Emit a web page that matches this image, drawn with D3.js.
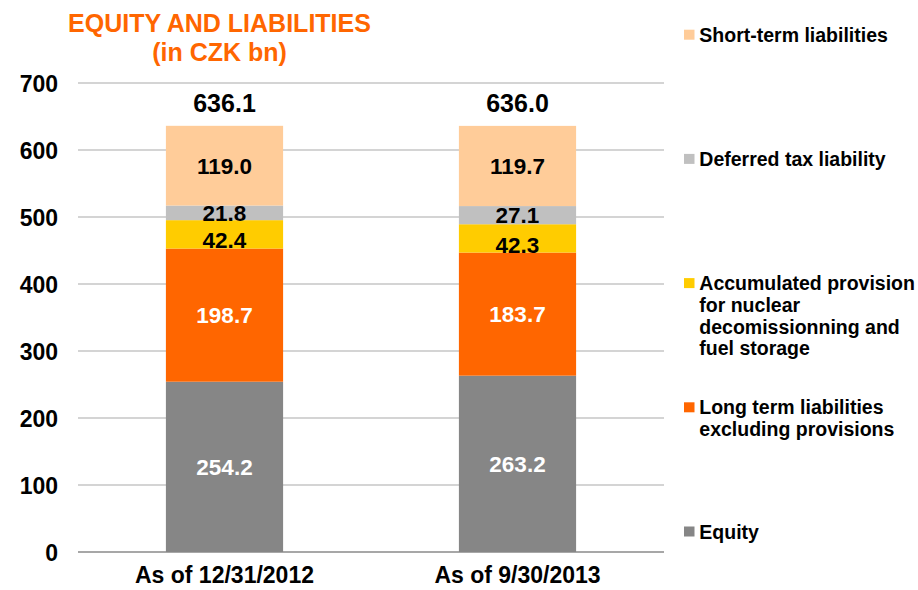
<!DOCTYPE html>
<html>
<head>
<meta charset="utf-8">
<script src="https://cdn.jsdelivr.net/npm/d3@7"></script>
<style>
  html, body { margin: 0; padding: 0; background: #fff; }
  svg { display: block; font-family: "Liberation Sans", Arial, Helvetica, sans-serif; font-weight: bold; }
</style>
</head>
<body>
<svg id="chart" width="918" height="590"></svg>
<script>
// Balance-sheet structure, CZK bn
const categories = ["As of 12/31/2012", "As of 9/30/2013"];
const equity = [254.2, 263.2];
const longTermLiabilities = [198.7, 183.7];
const nuclearProvision = [42.4, 42.3];
const deferredTax = [21.8, 27.1];
const shortTermLiabilities = [119.0, 119.7];
const totals = [636.1, 636.0];
const yTicks = [0, 100, 200, 300, 400, 500, 600, 700];

// Stack order, bottom to top
const series = [
  { name: "Equity", values: equity, color: "#868686", text: "#ffffff",
    legend: ["Equity"] },
  { name: "Long term liabilities excluding provisions", values: longTermLiabilities, color: "#FF6600", text: "#ffffff",
    legend: ["Long term liabilities", "excluding provisions"] },
  { name: "Accumulated provision", values: nuclearProvision, color: "#FFCC00", text: "#000000", nudge: 6,
    legend: ["Accumulated provision", "for nuclear", "decomissionning and", "fuel storage"] },
  { name: "Deferred tax liability", values: deferredTax, color: "#C0C0C0", text: "#000000",
    legend: ["Deferred tax liability"] },
  { name: "Short-term liabilities", values: shortTermLiabilities, color: "#FFCC99", text: "#000000",
    legend: ["Short-term liabilities"] }
];

const svg = d3.select("#chart");

const x = d3.scaleBand()
  .domain(categories)
  .range([78, 664])
  .paddingInner(0.6)
  .paddingOuter(0.3);

const y = d3.scaleLinear()
  .domain([0, 700])
  .range([552, 83]);

// Title
const title = svg.append("g").attr("fill", "#FF6600").attr("text-anchor", "middle");
title.append("text").attr("x", 219.5).attr("y", 32).attr("font-size", 25).text("EQUITY AND LIABILITIES");
title.append("text").attr("x", 219.5).attr("y", 61).attr("font-size", 25).text("(in CZK bn)");

// Gridlines
svg.append("g")
  .selectAll("line")
  .data(yTicks)
  .join("line")
  .attr("x1", 78).attr("x2", 664)
  .attr("y1", d => y(d)).attr("y2", d => y(d))
  .attr("stroke", d => d === 0 ? "#8a8a8a" : "#c6c6c6")
  .attr("stroke-width", 1.5);

// Y axis labels
const yAxis = svg.append("g")
  .attr("transform", "translate(58,0)")
  .call(d3.axisLeft(y).tickValues(yTicks).tickSize(0).tickPadding(0).tickFormat(d3.format("d")));
yAxis.select(".domain").remove();
yAxis.selectAll("text")
  .attr("font-size", 23)
  .attr("font-family", "'Liberation Sans', Arial, sans-serif")
  .attr("font-weight", "bold")
  .attr("fill", "#000")
  .attr("dy", "0.36em");

// Stacked bars
const stackData = categories.map((c, i) => {
  const row = { category: c };
  series.forEach(s => { row[s.name] = s.values[i]; });
  return row;
});
const stacked = d3.stack().keys(series.map(s => s.name))(stackData);

const layers = svg.append("g")
  .selectAll("g")
  .data(stacked)
  .join("g")
  .attr("fill", (d, i) => series[i].color);

layers.selectAll("rect")
  .data(d => d)
  .join("rect")
  .attr("x", d => x(d.data.category))
  .attr("width", x.bandwidth())
  .attr("y", d => y(d[1]))
  .attr("height", d => y(d[0]) - y(d[1]));

// Segment value labels
stacked.forEach((layer, li) => {
  const s = series[li];
  svg.append("g")
    .selectAll("text")
    .data(layer)
    .join("text")
    .attr("x", d => x(d.data.category) + x.bandwidth() / 2)
    .attr("y", d => (y(d[0]) + y(d[1])) / 2 + (s.nudge || 0))
    .attr("dy", "0.36em")
    .attr("text-anchor", "middle")
    .attr("font-size", 22.5)
    .attr("fill", s.text)
    .text(d => d3.format(".1f")(d[1] - d[0]));
});

// Totals above bars
svg.append("g")
  .selectAll("text")
  .data(categories)
  .join("text")
  .attr("x", d => x(d) + x.bandwidth() / 2)
  .attr("y", (d, i) => y(totals[i]) - 14)
  .attr("text-anchor", "middle")
  .attr("font-size", 25)
  .attr("fill", "#000")
  .text((d, i) => d3.format(".1f")(totals[i]));

// Category labels
svg.append("g")
  .selectAll("text")
  .data(categories)
  .join("text")
  .attr("x", d => x(d) + x.bandwidth() / 2)
  .attr("y", 583)
  .attr("text-anchor", "middle")
  .attr("font-size", 23)
  .attr("fill", "#000")
  .text(d => d);

// Legend, top item is the top of the stack
const legendItems = series.slice().reverse();
const legend = svg.append("g")
  .selectAll("g")
  .data(legendItems)
  .join("g")
  .attr("transform", (d, i) => `translate(684,${41.7 + i * 124.2})`);

legend.append("rect")
  .attr("x", 0).attr("y", -12)
  .attr("width", 10.5).attr("height", 10)
  .attr("fill", d => d.color);

legend.append("text")
  .attr("x", 15.3)
  .attr("font-size", 19.5)
  .attr("fill", "#000")
  .selectAll("tspan")
  .data(d => d.legend)
  .join("tspan")
  .attr("x", 15.3)
  .attr("y", (d, i) => i * 21.8)
  .text(d => d);
</script>
</body>
</html>
